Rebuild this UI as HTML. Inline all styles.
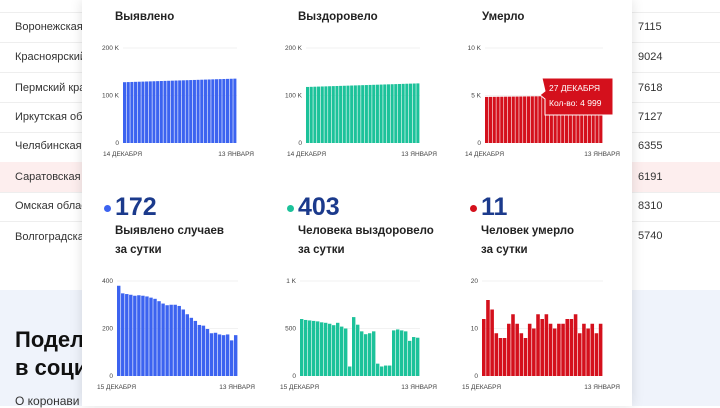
<!DOCTYPE html>
<html><head><meta charset="utf-8"><style>
body{margin:0;width:720px;height:406px;overflow:hidden;position:relative;font-family:"Liberation Sans",sans-serif;background:#fff}
.bg{position:absolute;left:0;top:0;width:720px;height:406px}
.row{position:absolute;left:15px;font-size:11px;color:#333}
.num{position:absolute;left:638px;font-size:11px;color:#333}
.sep{position:absolute;left:0;width:720px;height:1px;background:#eee}
.modal{position:absolute;left:82px;top:0;width:550px;height:406px;background:#fff;box-shadow:0 0 12px rgba(0,0,0,.12)}
.t{position:absolute;font-size:11.5px;font-weight:bold;color:#222}
.big{position:absolute;font-size:25px;font-weight:bold;color:#1b3a8c}
.dot{position:absolute;width:7px;height:7px;border-radius:50%}
.s{position:absolute;font-size:11.5px;font-weight:bold;color:#222;line-height:19px}
svg text{font-family:"Liberation Sans",sans-serif;font-size:6.5px;fill:#444}
</style></head><body>
<div class="bg">
<div class="sep" style="top:12px"></div>
<div class="row" style="top:21px">Воронежская</div>
<div class="sep" style="top:42px"></div>
<div class="row" style="top:51px">Красноярский</div>
<div class="sep" style="top:72px"></div>
<div class="row" style="top:82px">Пермский кра</div>
<div class="sep" style="top:102px"></div>
<div class="row" style="top:111px">Иркутская обл</div>
<div class="sep" style="top:132px"></div>
<div class="row" style="top:140px">Челябинская</div>
<div style="position:absolute;left:0;top:162px;width:720px;height:30px;background:#fdeeee"></div>
<div class="row" style="top:171px">Саратовская</div>
<div class="sep" style="top:192px"></div>
<div class="row" style="top:200px">Омская облас</div>
<div class="sep" style="top:221px"></div>
<div class="row" style="top:231px">Волгоградска</div>
<div class="num" style="top:21px">7115</div><div class="num" style="top:51px">9024</div>
<div class="num" style="top:82px">7618</div><div class="num" style="top:111px">7127</div>
<div class="num" style="top:140px">6355</div><div class="num" style="top:171px">6191</div>
<div class="num" style="top:200px">8310</div><div class="num" style="top:230px">5740</div>
<div style="position:absolute;left:0;top:290px;width:720px;height:116px;background:#eff3fb"></div>
<div style="position:absolute;left:15px;top:326px;font-size:22px;font-weight:bold;color:#111;line-height:28px">Подел<br>в соци</div>
<div style="position:absolute;left:15px;top:394px;font-size:12px;color:#333">О коронави</div>
</div>
<div class="modal"></div>
<div class="t" style="left:115px;top:11px">Выявлено</div>
<div class="t" style="left:298px;top:11px">Выздоровело</div>
<div class="t" style="left:482px;top:11px">Умерло</div>
<div class="dot" style="left:104px;top:205px;background:#3c63f0"></div>
<div class="big" style="left:115px;top:193px">172</div>
<div class="dot" style="left:287px;top:205px;background:#1cc29a"></div>
<div class="big" style="left:298px;top:193px">403</div>
<div class="dot" style="left:470px;top:205px;background:#d4101c"></div>
<div class="big" style="left:481px;top:193px">11</div>
<div class="s" style="left:115px;top:222px">Выявлено случаев<br>за сутки</div>
<div class="s" style="left:298px;top:222px">Человека выздоровело<br>за сутки</div>
<div class="s" style="left:481px;top:222px">Человек умерло<br>за сутки</div>
<svg id="sv" style="position:absolute;left:0;top:0" width="720" height="406"></svg>
<script>
var sv=document.getElementById('sv'),h='';
function chart(x0,x1,y0,ytop,max,vals,col,labels,d1,d2,lx){
 var ymid=(y0+ytop)/2;
 h+='<line x1="'+(x0)+'" x2="'+(x1)+'" y1="'+ytop+'" y2="'+ytop+'" stroke="#eee" stroke-width="0.7"/>';
 h+='<line x1="'+(x0)+'" x2="'+(x1)+'" y1="'+ymid+'" y2="'+ymid+'" stroke="#eee" stroke-width="0.7"/>';
 h+='<text x="'+(x0-4)+'" y="'+(ytop+2)+'" text-anchor="end">'+labels[0]+'</text>';
 h+='<text x="'+(x0-4)+'" y="'+(ymid+2)+'" text-anchor="end">'+labels[1]+'</text>';
 h+='<text x="'+(x0-4)+'" y="'+(y0+2)+'" text-anchor="end">0</text>';
 var n=vals.length,w=(x1-x0)/n;
 for(var i=0;i<n;i++){var hh=vals[i]/max*(y0-ytop);
  h+='<rect x="'+(x0+i*w).toFixed(2)+'" y="'+(y0-hh).toFixed(2)+'" width="'+(w-0.6).toFixed(2)+'" height="'+hh.toFixed(2)+'" fill="'+col+'"/>';}
 h+='<text x="'+(lx)+'" y="'+(y0+13)+'">'+d1+'</text>';
 h+='<text x="'+(x1+17)+'" y="'+(y0+13)+'" text-anchor="end">'+d2+'</text>';
}
var a=[],b=[],c=[];
for(var i=0;i<31;i++){a.push(128+i*0.25);b.push(118+i*0.25);c.push(4.85+i*0.005);}
chart(123,237,143,48,200,a,'#3c63f0',['200 K','100 K'],'14 ДЕКАБРЯ','13 ЯНВАРЯ',103);
chart(306,420,143,48,200,b,'#1cc29a',['200 K','100 K'],'14 ДЕКАБРЯ','13 ЯНВАРЯ',287);
chart(485,603,143,48,10,c,'#d4101c',['10 K','5 K'],'14 ДЕКАБРЯ','13 ЯНВАРЯ',465);
chart(117,238,376,281,400,[380,348,345,342,338,340,338,335,330,325,315,305,298,300,300,295,280,260,245,232,215,212,198,180,182,175,172,175,150,172],'#3c63f0',['400','200'],'15 ДЕКАБРЯ','13 ЯНВАРЯ',97);
chart(300,420,376,281,1000,[600,590,585,580,575,565,560,550,535,560,520,500,100,620,540,470,440,450,470,130,100,110,110,480,490,480,470,370,410,403],'#1cc29a',['1 K','500'],'15 ДЕКАБРЯ','13 ЯНВАРЯ',280);
chart(482,603,376,281,20,[12,16,14,9,8,8,11,13,11,9,8,11,10,13,12,13,11,10,11,11,12,12,13,9,11,10,11,9,11],'#d4101c',['20','10'],'15 ДЕКАБРЯ','13 ЯНВАРЯ',462);
h+='<path d="M542 78 L613 78 L613 115 L545 115 L545 99 L540 95 L545 91 Z" fill="#d4101c" stroke="#fff" stroke-width="1"/>';
h+='<text x="549" y="91" style="fill:#fff;font-size:8.5px">27 ДЕКАБРЯ</text>';
h+='<text x="549" y="106" style="fill:#fff;font-size:8.5px">Кол-во: 4 999</text>';
sv.innerHTML=h;
</script>
</body></html>
